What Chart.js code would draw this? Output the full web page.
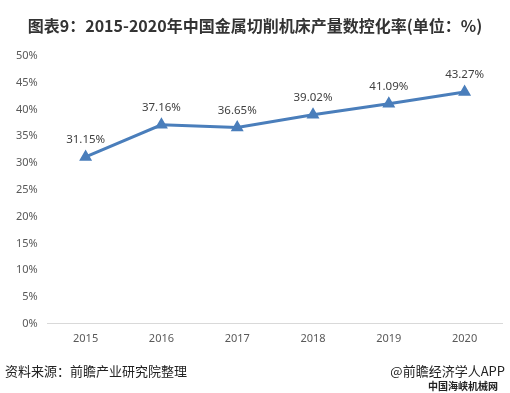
<!DOCTYPE html>
<html>
<head>
<meta charset="utf-8">
<script src="https://cdn.jsdelivr.net/npm/chart.js@4/dist/chart.umd.min.js"></script>
<style>
  html, body { margin: 0; padding: 0; background: #fff; }
  #wrap { position: relative; width: 510px; height: 393px; overflow: hidden; font-family: "Microsoft YaHei", "Noto Sans CJK SC", sans-serif; }
  #chart { position: absolute; left: 0; top: 0; }
  .title { position: absolute; top: 13px; left: 0; width: 510px; text-align: center; font-size: 16px; font-weight: bold; color: #333; }
  .src { position: absolute; left: 5px; top: 361px; font-size: 13px; color: #222; }
  .app { position: absolute; right: 5px; top: 361px; font-size: 13px; color: #222; }
  .net { position: absolute; right: 12px; top: 378px; font-size: 10px; font-weight: bold; color: #222; }
</style>
</head>
<body>
<div id="wrap">
  <canvas id="chart" width="510" height="393"></canvas>
  <div class="title">图表9：2015-2020年中国金属切削机床产量数控化率(单位：%)</div>
  <div class="src">资料来源：前瞻产业研究院整理</div>
  <div class="app">@前瞻经济学人APP</div>
  <div class="net">中国海峡机械网</div>
</div>
<script>
const years = ['2015', '2016', '2017', '2018', '2019', '2020'];
const rates = [31.15, 37.16, 36.65, 39.02, 41.09, 43.27];
const yTicks = [0, 5, 10, 15, 20, 25, 30, 35, 40, 45, 50];

// draw the value labels above each point
const valueLabels = {
    id: 'valueLabels',
    afterDatasetsDraw(chart) {
        const ctx = chart.ctx;
        const meta = chart.getDatasetMeta(0);
        ctx.save();
        ctx.font = '11.5px "Noto Sans", sans-serif';
        ctx.fillStyle = '#404040';
        ctx.textAlign = 'center';
        ctx.textBaseline = 'middle';
        meta.data.forEach((pt, i) => {
            ctx.fillText(rates[i].toFixed(2) + '%', pt.x, pt.y - 17);
        });
        ctx.restore();
    }
};

new Chart(document.getElementById('chart'), {
    type: 'line',
    data: {
        labels: years,
        datasets: [{
            data: rates,
            borderColor: '#4a7ebb',
            backgroundColor: '#4a7ebb',
            borderWidth: 3,
            pointStyle: 'triangle',
            pointRadius: 4.5,
            pointHoverRadius: 4.5,
            tension: 0
        }]
    },
    options: {
        responsive: false,
        animation: false,
        layout: { padding: { top: 56, bottom: 40, left: 6, right: 7 } },
        plugins: { legend: { display: false }, tooltip: { enabled: false } },
        scales: {
            x: {
                offset: true,
                grid: { display: false, drawTicks: false },
                border: { color: '#d9d9d9' },
                ticks: { color: '#595959', font: { size: 11, family: '"Noto Sans", sans-serif' }, padding: 8 }
            },
            y: {
                min: 0,
                max: 50,
                afterBuildTicks: axis => { axis.ticks = yTicks.map(v => ({ value: v })); },
                grid: { display: false, drawTicks: false },
                border: { display: false },
                ticks: {
                    color: '#595959',
                    font: { size: 11, family: '"Noto Sans", sans-serif' },
                    padding: 10,
                    callback: v => v + '%'
                }
            }
        }
    },
    plugins: [valueLabels]
});
</script>
</body>
</html>
